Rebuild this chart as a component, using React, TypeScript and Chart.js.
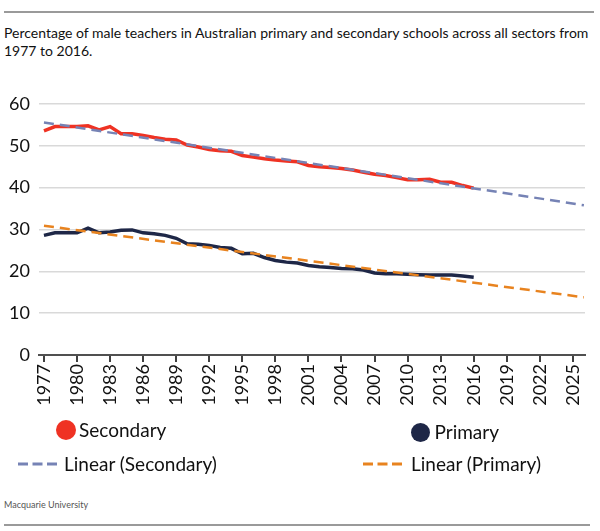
import React, { useEffect, useRef } from "react";
import { Chart, registerables } from "chart.js";

Chart.register(...registerables);

const years = [
  1977, 1978, 1979, 1980, 1981, 1982, 1983, 1984, 1985, 1986,
  1987, 1988, 1989, 1990, 1991, 1992, 1993, 1994, 1995, 1996,
  1997, 1998, 1999, 2000, 2001, 2002, 2003, 2004, 2005, 2006,
  2007, 2008, 2009, 2010, 2011, 2012, 2013, 2014, 2015, 2016,
];

const secondary = [
  53.6, 54.6, 54.6, 54.6, 54.8, 53.8, 54.6, 52.9, 52.9, 52.5,
  52.0, 51.6, 51.4, 50.2, 49.7, 49.1, 48.8, 48.7, 47.7, 47.3,
  46.9, 46.6, 46.4, 46.2, 45.3, 45.0, 44.8, 44.6, 44.2, 43.7,
  43.2, 42.9, 42.4, 41.9, 41.9, 42.0, 41.3, 41.3, 40.5, 39.9,
];

const primary = [
  28.6, 29.2, 29.2, 29.2, 30.3, 29.2, 29.4, 29.8, 29.9, 29.2,
  29.0, 28.6, 27.9, 26.6, 26.5, 26.2, 25.7, 25.5, 24.2, 24.3,
  23.3, 22.6, 22.2, 22.0, 21.4, 21.1, 20.9, 20.7, 20.6, 20.3,
  19.6, 19.45, 19.4, 19.3, 19.2, 19.1, 19.1, 19.1, 18.9, 18.6,
];

const trendYears = [1977, 2026];
const secondaryTrend = [55.6, 35.8];
const primaryTrend = [30.9, 13.8];

const tickYears = [
  1977, 1980, 1983, 1986, 1989, 1992, 1995, 1998, 2001,
  2004, 2007, 2010, 2013, 2016, 2019, 2022, 2025,
];

const yTicks = [0, 10, 20, 30, 40, 50, 60];

const RED = "#ef3223";
const NAVY = "#1e2747";
const BLUE_TREND = "#7683b5";
const ORANGE_TREND = "#e8831f";
const FONT = "Lato";

export default function App() {
  const canvasRef = useRef<HTMLCanvasElement | null>(null);

  useEffect(() => {
    if (!canvasRef.current) return;
    const chart = new Chart(canvasRef.current, {
      type: "line",
      data: {
        datasets: [
          {
            label: "Linear (Secondary)",
            data: trendYears.map((x, i) => ({ x, y: secondaryTrend[i] })),
            borderColor: BLUE_TREND,
            borderWidth: 2.5,
            borderDash: [10, 6],
            pointRadius: 0,
            order: 0,
          },
          {
            label: "Linear (Primary)",
            data: trendYears.map((x, i) => ({ x, y: primaryTrend[i] })),
            borderColor: ORANGE_TREND,
            borderWidth: 2.5,
            borderDash: [10, 6],
            pointRadius: 0,
            order: 0,
          },
          {
            label: "Secondary",
            data: years.map((x, i) => ({ x, y: secondary[i] })),
            borderColor: RED,
            borderWidth: 3.5,
            pointRadius: 0,
            tension: 0,
            order: 1,
          },
          {
            label: "Primary",
            data: years.map((x, i) => ({ x, y: primary[i] })),
            borderColor: NAVY,
            borderWidth: 3.5,
            pointRadius: 0,
            tension: 0,
            order: 1,
          },
        ],
      },
      options: {
        animation: false,
        responsive: false,
        maintainAspectRatio: false,
        layout: { padding: { top: 104, right: 15, left: 0, bottom: 0 } },
        plugins: {
          legend: { display: false },
          tooltip: { enabled: false },
        },
        scales: {
          x: {
            type: "linear",
            min: 1976.55,
            max: 2026.1,
            afterBuildTicks: (s: any) => {
              s.ticks = tickYears.map((v) => ({ value: v }));
            },
            afterFit: (s: any) => {
              s.height = 65;
            },
            ticks: {
              autoSkip: false,
              minRotation: 90,
              maxRotation: 90,
              padding: 2,
              color: "#111",
              font: { family: FONT, size: 18 },
              callback: (v: any) => String(v),
            },
            grid: {
              drawOnChartArea: false,
              drawTicks: true,
              tickLength: 7,
              color: "#404040",
              lineWidth: 2,
            },
            border: { display: true, color: "#505050", width: 2 },
          },
          y: {
            min: 0,
            max: 60,
            afterBuildTicks: (s: any) => {
              s.ticks = yTicks.map((v) => ({ value: v }));
            },
            afterFit: (s: any) => {
              s.width = 39;
            },
            ticks: {
              padding: 9,
              color: "#111",
              font: { family: FONT, size: 18 },
              callback: (v: any) => String(v),
            },
            grid: { color: "#d9d9d9", lineWidth: 1.5, drawTicks: false },
            border: { display: false },
          },
        },
      },
    });
    return () => chart.destroy();
  }, []);

  const legendText: React.CSSProperties = {
    fontFamily: FONT,
    fontSize: 19,
    color: "#111",
    lineHeight: "30px",
    whiteSpace: "nowrap",
  };

  const row = (left: number, cy: number): React.CSSProperties => ({
    position: "absolute",
    left,
    top: cy - 15,
    height: 30,
    display: "flex",
    alignItems: "center",
  });

  return (
    <div style={{ position: "absolute", left: 0, top: 0, width: 600, height: 531, background: "#fff", overflow: "hidden" }}>
      <div style={{ position: "absolute", left: 4, top: 11, width: 590, height: 2, background: "#9a9a9a" }} />
      <div
        style={{
          position: "absolute",
          left: 4,
          top: 24,
          width: 592,
          fontFamily: FONT,
          fontSize: 14,
          lineHeight: "18px",
          color: "#111",
        }}
      >
        Percentage of male teachers in Australian primary and secondary schools across all sectors from 1977 to 2016.
      </div>
      <canvas
        ref={canvasRef}
        width={600}
        height={420}
        style={{ position: "absolute", left: 0, top: 0, width: 600, height: 420 }}
      />
      <div style={row(56, 430)}>
        <span style={{ width: 20, height: 20, borderRadius: 10, background: RED, display: "inline-block", marginRight: 3 }} />
        <span style={legendText}>Secondary</span>
      </div>
      <div style={row(410.5, 432)}>
        <span style={{ width: 19, height: 19, borderRadius: 10, background: NAVY, display: "inline-block", marginRight: 5 }} />
        <span style={legendText}>Primary</span>
      </div>
      <div style={row(18, 463.5)}>
        <svg width={40} height={6} style={{ marginRight: 6 }}>
          <line x1={0} y1={3} x2={40} y2={3} stroke={BLUE_TREND} strokeWidth={3} strokeDasharray="10,4.5" />
        </svg>
        <span style={legendText}>Linear (Secondary)</span>
      </div>
      <div style={row(363, 463.5)}>
        <svg width={40} height={6} style={{ marginRight: 8 }}>
          <line x1={0} y1={3} x2={40} y2={3} stroke={ORANGE_TREND} strokeWidth={3} strokeDasharray="10,4.5" />
        </svg>
        <span style={legendText}>Linear (Primary)</span>
      </div>
      <div
        style={{
          position: "absolute",
          left: 4,
          top: 498,
          fontFamily: FONT,
          fontSize: 9,
          lineHeight: "14px",
          color: "#555",
        }}
      >
        Macquarie University
      </div>
      <div style={{ position: "absolute", left: 4, top: 524, width: 586, height: 2, background: "#9a9a9a" }} />
    </div>
  );
}
